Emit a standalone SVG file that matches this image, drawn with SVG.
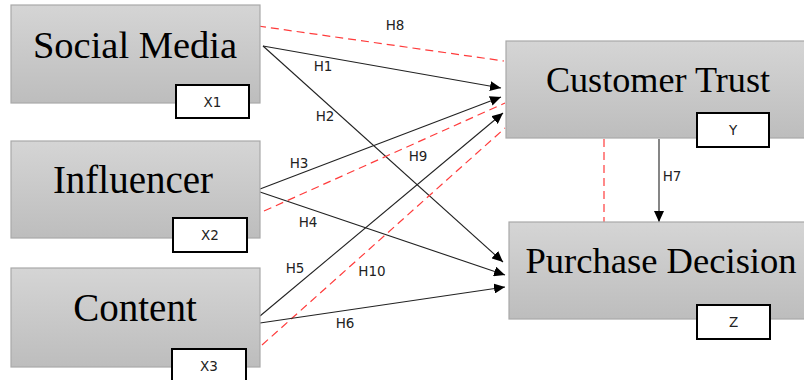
<svg xmlns="http://www.w3.org/2000/svg" width="804" height="380" viewBox="0 0 804 380">
<defs>
<linearGradient id="g" x1="0" y1="0" x2="0" y2="1">
<stop offset="0" stop-color="#d5d5d5"/>
<stop offset="1" stop-color="#bdbdbd"/>
</linearGradient>
<marker id="arr" markerUnits="userSpaceOnUse" markerWidth="12" markerHeight="10" refX="11" refY="5" orient="auto">
<path d="M0,0 L11,5 L0,10 Z" fill="#000"/>
</marker>
</defs>
<style>
.box{fill:url(#g);stroke:#a9a9a9;stroke-width:1.2}
.big{font-family:"Liberation Serif","Times New Roman",serif;fill:#000;text-anchor:middle}
.tag{fill:#fff;stroke:#000;stroke-width:2}
.sm{font-family:"DejaVu Sans",Verdana,sans-serif;font-size:13.5px;fill:#222;text-anchor:middle}
.ln{stroke:#222;stroke-width:1.1;fill:none;marker-end:url(#arr)}
.rd{stroke:#ff3b3b;stroke-width:1.2;fill:none;stroke-dasharray:8,5}
</style>
<g id="connectors">
<line class="rd" x1="258" y1="26" x2="504" y2="61"/>
<line class="ln" x1="263" y1="46" x2="501" y2="88"/>
<line class="ln" x1="263" y1="46" x2="503" y2="262"/>
<line class="ln" x1="260" y1="189" x2="501" y2="97"/>
<line class="rd" x1="264" y1="211" x2="505" y2="103"/>
<line class="ln" x1="260" y1="192" x2="505" y2="275"/>
<line class="ln" x1="260" y1="316" x2="503" y2="113"/>
<line class="rd" x1="262" y1="345" x2="505" y2="128"/>
<line class="ln" x1="260" y1="323" x2="505" y2="287"/>
<line class="ln" x1="659" y1="139" x2="659" y2="222"/>
<line class="rd" x1="604" y1="139" x2="604" y2="222"/>
<text class="sm" x="395" y="30">H8</text>
<text class="sm" x="323" y="71">H1</text>
<text class="sm" x="325" y="121">H2</text>
<text class="sm" x="299" y="168">H3</text>
<text class="sm" x="418" y="161">H9</text>
<text class="sm" x="308" y="227">H4</text>
<text class="sm" x="295" y="273">H5</text>
<text class="sm" x="372" y="276">H10</text>
<text class="sm" x="345" y="328">H6</text>
<text class="sm" x="672" y="181">H7</text>
</g>
<g id="social-media">
<rect class="box" x="11" y="5" width="249" height="98"/>
<text class="big" x="135" y="58" font-size="38.5">Social Media</text>
<rect class="tag" x="176" y="85" width="73" height="33"/>
<text class="sm" x="212.5" y="107">X1</text>
</g>
<g id="influencer">
<rect class="box" x="11" y="141" width="249" height="97"/>
<text class="big" x="133" y="193" font-size="39">Influencer</text>
<rect class="tag" x="173" y="218" width="74" height="34"/>
<text class="sm" x="210" y="240">X2</text>
</g>
<g id="content">
<rect class="box" x="11" y="268" width="249" height="99"/>
<text class="big" x="135" y="321" font-size="39">Content</text>
<rect class="tag" x="172" y="349" width="74" height="34"/>
<text class="sm" x="209" y="371">X3</text>
</g>
<g id="customer-trust">
<rect class="box" x="506" y="41" width="310" height="97"/>
<text class="big" x="658" y="92" font-size="36.2">Customer Trust</text>
<rect class="tag" x="697" y="113" width="72" height="34"/>
<text class="sm" x="733" y="135">Y</text>
</g>
<g id="purchase-decision">
<rect class="box" x="509" y="222" width="310" height="97"/>
<text class="big" x="661" y="273" font-size="36.6">Purchase Decision</text>
<rect class="tag" x="697" y="305" width="73" height="34"/>
<text class="sm" x="733.5" y="327">Z</text>
</g>
</svg>
